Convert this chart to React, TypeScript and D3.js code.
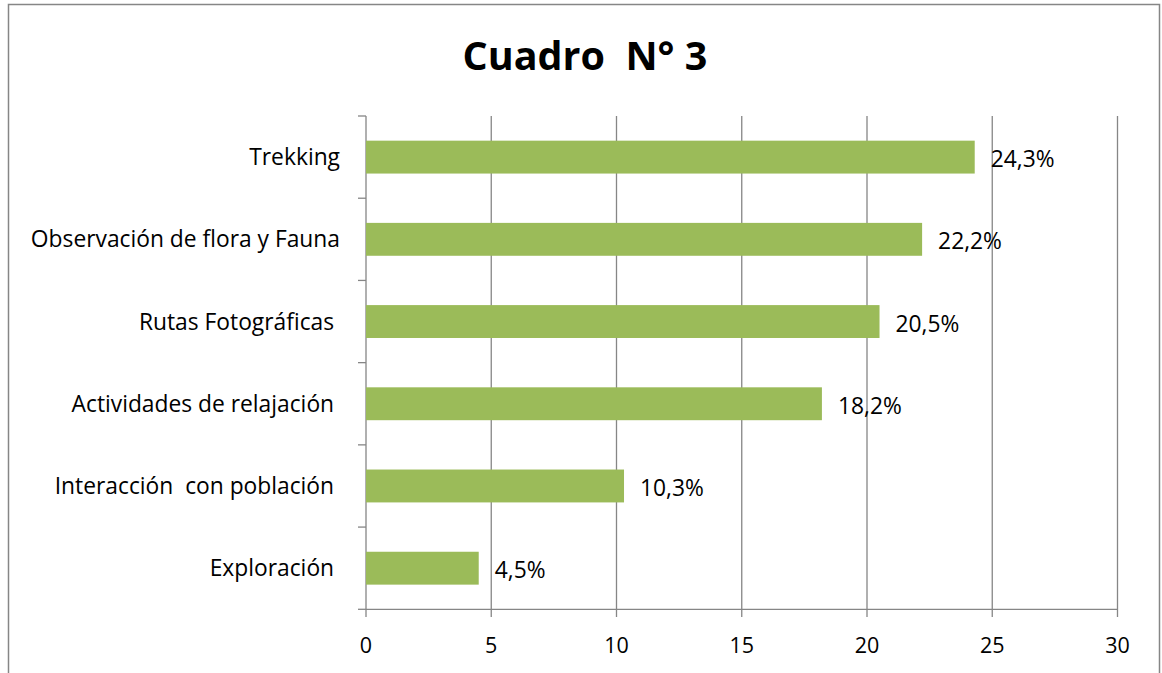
import React from "react";
import * as d3 from "d3";

const categories = [
  "Trekking",
  "Observación de flora y Fauna",
  "Rutas Fotográficas ",
  "Actividades de relajación ",
  "Interacción  con población ",
  "Exploración ",
];
const values = [24.3, 22.2, 20.5, 18.2, 10.3, 4.5];
const valueLabels = ["24,3%", "22,2%", "20,5%", "18,2%", "10,3%", "4,5%"];
const xTicks = [0, 5, 10, 15, 20, 25, 30];
const title = "Cuadro  N° 3";

const W = 1162;
const H = 673;
const FONT = "'Open Sans', sans-serif";
const GRID = "#868686";
const BAR = "#9BBB59";

export default function App() {
  const x = d3.scaleLinear().domain([0, 30]).range([366, 1117.5]);
  const y = d3.scaleBand<string>().domain(categories).range([116, 609.3]).paddingInner(0.6).paddingOuter(0.3);
  const band = d3.scaleBand<string>().domain(categories).range([116, 609.3]);
  const bandTicks = [...categories.map((c) => band(c) as number), 609.3];
  return (
    <svg width={W} height={H} style={{ position: "absolute", left: 0, top: 0 }}>
      <rect x={0} y={0} width={W} height={H} fill="#fff" />
      <path d={`M8.5,${H + 2} V4.5 H1159.5 V${H + 2}`} fill="none" stroke={GRID} strokeWidth={1.5} />
      <text x={585} y={70} textAnchor="middle" fontFamily={FONT} fontWeight="bold" fontSize={39.5} style={{ whiteSpace: "pre" }}>
        {title}
      </text>
      {xTicks.map((t) => (
        <g key={t}>
          <line x1={x(t)} x2={x(t)} y1={116} y2={617} stroke={GRID} strokeWidth={1.3} />
          <text x={x(t)} y={653} textAnchor="middle" fontFamily={FONT} fontSize={21.5}>
            {t}
          </text>
        </g>
      ))}
      <line x1={366} x2={1117.5} y1={609.3} y2={609.3} stroke={GRID} strokeWidth={1.3} />
      {bandTicks.map((v, i) => (
        <line key={i} x1={358} x2={366} y1={v} y2={v} stroke={GRID} strokeWidth={1.3} />
      ))}
      {categories.map((c, i) => {
        const yc = (band(c) as number) + band.bandwidth() / 2;
        return (
          <g key={c}>
            <rect x={x(0)} y={y(c)} width={x(values[i]) - x(0)} height={y.bandwidth()} fill={BAR} />
            <text x={340} y={yc + 8} textAnchor="end" fontFamily={FONT} fontSize={22.8} style={{ whiteSpace: "pre" }}>
              {c}
            </text>
            <text x={x(values[i]) + 16} y={yc + 10} fontFamily={FONT} fontSize={22.8}>
              {valueLabels[i]}
            </text>
          </g>
        );
      })}
    </svg>
  );
}
